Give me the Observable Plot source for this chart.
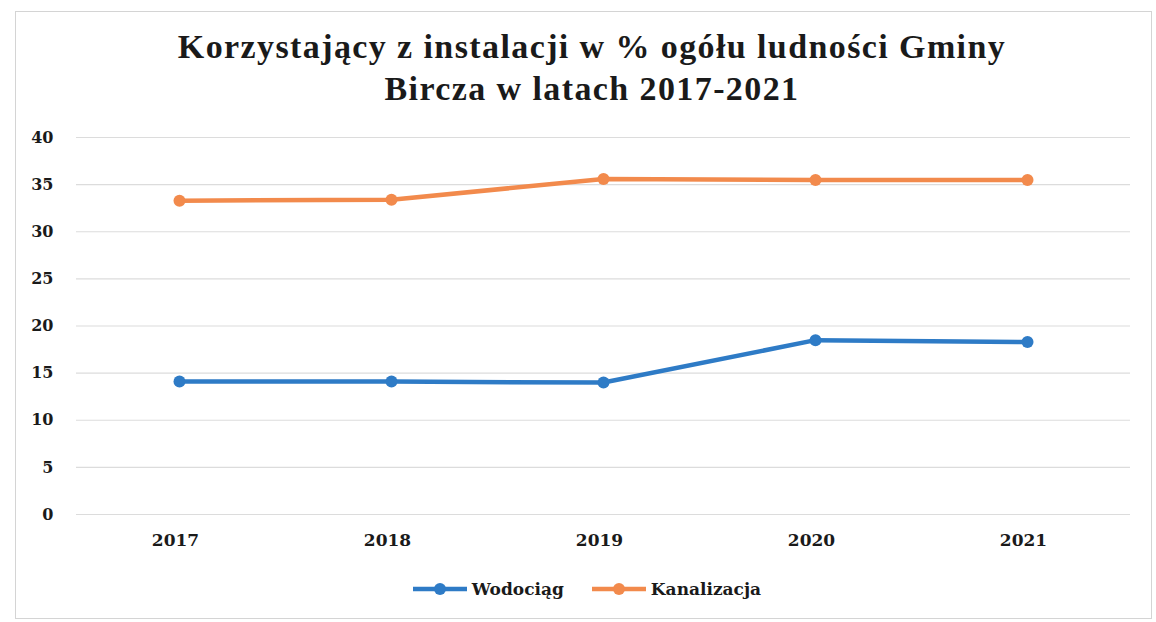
<!DOCTYPE html>
<html>
<head>
<meta charset="utf-8">
<script src="https://cdn.jsdelivr.net/npm/d3@7"></script>
<script src="https://cdn.jsdelivr.net/npm/@observablehq/plot@0.6"></script>
<style>
  html, body { margin: 0; padding: 0; background: #fff; }
  body { width: 1156px; height: 622px; position: relative; overflow: hidden; font-family: "Liberation Serif", "Times New Roman", serif; }
  #frame { position: absolute; left: 15px; top: 11px; width: 1137px; height: 608px; border: 1px solid #d4d4d4; box-sizing: border-box; }
  #title { position: absolute; left: 0; top: 26px; width: 1184px; text-align: center; font-weight: bold; font-size: 34px; letter-spacing: 1.4px; line-height: 42px; color: #1a1a1a; }
  #chart { position: absolute; left: 0; top: 0; }
  #legend { position: absolute; top: 579px; left: 0; width: 1156px; display: flex; justify-content: center; gap: 26px; font-family: "DejaVu Serif", serif; font-weight: bold; font-size: 17px; color: #1a1a1a; padding-left: 16px; box-sizing: border-box; }
  .item { display: flex; align-items: center; gap: 3px; }
</style>
</head>
<body>
<div id="frame"></div>
<div id="title">Korzystający z instalacji w % ogółu ludności Gminy<br>Bircza w latach 2017-2021</div>
<div id="chart"></div>
<div id="legend"></div>
<script>
const years = ["2017", "2018", "2019", "2020", "2021"];
const wodociag = [14.1, 14.1, 14.0, 18.5, 18.3];
const kanalizacja = [33.3, 33.4, 35.6, 35.5, 35.5];
const yTicks = [0, 5, 10, 15, 20, 25, 30, 35, 40];
const seriesNames = ["Wodociąg", "Kanalizacja"];
const seriesColors = ["#2E7BC6", "#F28A4C"];

const data = [];
years.forEach((y, i) => {
  data.push({year: y, value: wodociag[i], series: seriesNames[0]});
  data.push({year: y, value: kanalizacja[i], series: seriesNames[1]});
});

const plot = Plot.plot({
  width: 1156,
  height: 560,
  marginTop: 137,
  marginBottom: 46,
  marginLeft: 72,
  marginRight: 22,
  style: {fontFamily: "'DejaVu Serif', serif", fontSize: "16px", fontWeight: "bold", color: "#1a1a1a", background: "transparent"},
  x: {type: "point", domain: years, padding: 0.5, label: null},
  y: {domain: [0, 40], label: null},
  color: {domain: seriesNames, range: seriesColors},
  marks: [
    Plot.ruleY(yTicks, {stroke: "#dcdcdc", strokeWidth: 1.2, insetLeft: 4, insetRight: 4}),
    Plot.axisY({ticks: yTicks, tickSize: 0, tickPadding: 19, label: null, fontWeight: "bold", fontSize: 16}),
    Plot.axisX({tickSize: 0, tickPadding: 19, label: null, fontWeight: "bold", fontSize: 17, dx: -4}),
    Plot.line(data, {x: "year", y: "value", z: "series", stroke: "series", strokeWidth: 4.5}),
    Plot.dot(data, {x: "year", y: "value", fill: "series", r: 6})
  ]
});
document.getElementById("chart").appendChild(plot);

const legend = document.getElementById("legend");
seriesNames.forEach((name, i) => {
  const item = document.createElement("div");
  item.className = "item";
  item.innerHTML = `<svg width="58" height="14"><line x1="2" y1="7" x2="56" y2="7" stroke="${seriesColors[i]}" stroke-width="4.5"/><circle cx="29" cy="7" r="6" fill="${seriesColors[i]}"/></svg><span>${name}</span>`;
  legend.appendChild(item);
});
</script>
</body>
</html>
